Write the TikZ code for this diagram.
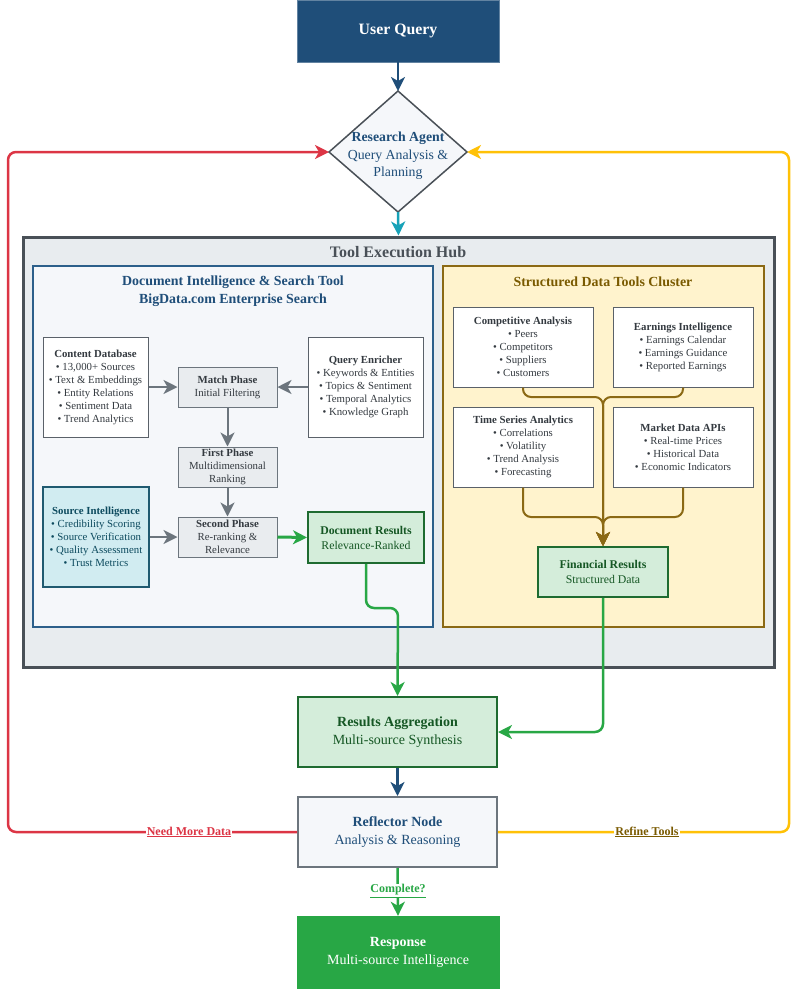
\documentclass[tikz,border=0pt]{standalone}
\usepackage{fontspec}
\setmainfont{Liberation Serif}
\usetikzlibrary{arrows.meta}
\definecolor{navy}{HTML}{1F4E79}
\definecolor{lightbg}{HTML}{F5F7FA}
\definecolor{hubbg}{HTML}{E8ECEF}
\definecolor{hubline}{HTML}{495057}
\definecolor{docline}{HTML}{2C5F8A}
\definecolor{boxline}{HTML}{5A6169}
\definecolor{txt}{HTML}{343A40}
\definecolor{phasebg}{HTML}{E9ECEF}
\definecolor{phaseline}{HTML}{6C757D}
\definecolor{srcbg}{HTML}{D1ECF1}
\definecolor{srcline}{HTML}{1F5A70}
\definecolor{srctxt}{HTML}{0C4A5E}
\definecolor{gbg}{HTML}{D4EDDA}
\definecolor{gline}{HTML}{1E6B30}
\definecolor{gtxt}{HTML}{155724}
\definecolor{ybg}{HTML}{FFF3CD}
\definecolor{yline}{HTML}{8B6914}
\definecolor{ytxt}{HTML}{7A5A00}
\definecolor{cred}{HTML}{DC3545}
\definecolor{cyel}{HTML}{FFC107}
\definecolor{cgreen}{HTML}{28A745}
\definecolor{cteal}{HTML}{17A2B8}
\tikzset{
  box/.style={draw, rectangle, align=center, inner sep=0pt},
  small/.style={font=\fontsize{10.8}{13}\selectfont},
  whitebox/.style={box, fill=white, draw=boxline, line width=1pt, text=txt, small},
  phasebox/.style={box, fill=phasebg, draw=phaseline, line width=1pt, text=txt, small},
  greenbox/.style={box, fill=gbg, draw=gline, line width=2pt, text=gtxt},
  arr/.style={-{Stealth[length=14pt,width=14pt,inset=4pt]}},
  grayarr/.style={arr, draw=phaseline, line width=2pt},
  brownline/.style={draw=yline, line width=2pt, rounded corners=8pt},
  lbl/.style={fill=white, inner sep=1pt, font=\fontsize{12}{13}\selectfont\bfseries}
}
\begin{document}
\begin{tikzpicture}[x=1pt,y=-1pt]
\useasboundingbox (0,0) rectangle (799,989);

% hub
\node[box, fill=hubbg, draw=hubline, line width=3pt, minimum width=751, minimum height=430] (hub) at (398.5,452) {};
\node[text=hubline, font=\fontsize{16}{18}\selectfont\bfseries] (hubt) at (398,252) {Tool Execution Hub};

% document cluster
\node[box, fill=lightbg, draw=docline, line width=2pt, minimum width=400, minimum height=361] (doc) at (233,446.5) {};
\node[text=navy, align=center, font=\fontsize{13.9}{18}\selectfont\bfseries] (doct) at (233,291) {Document Intelligence \& Search Tool\\BigData.com Enterprise Search};

% structured cluster
\node[box, fill=ybg, draw=yline, line width=2pt, minimum width=321, minimum height=361] (str) at (603.5,446.5) {};
\node[text=ytxt, font=\fontsize{13.9}{16}\selectfont\bfseries] (strt) at (603,282) {Structured Data Tools Cluster};

% top
\node[box, fill=navy, draw=navy!70!white, text=white, minimum width=202, minimum height=62, font=\fontsize{15.8}{18}\selectfont\bfseries] (uq) at (398,31) {User Query};
\coordinate (dt) at (398,91);
\coordinate (db) at (398,212);
\coordinate (dl) at (329,152);
\coordinate (dr) at (467,152);
\draw[fill=lightbg, draw=hubline, line width=1.5pt, line join=miter] (dt) -- (dr) -- (db) -- (dl) -- cycle;
\node[text=navy, align=center, font=\fontsize{13.8}{17.5}\selectfont] (ra) at (398,156) {\textbf{Research Agent}\\Query Analysis \&\\Planning};
\draw[arr, draw=navy, line width=2.5pt] (uq.south) -- (dt);
\draw[arr, draw=cteal, line width=2.5pt] (db) -- (hub.north);

% document internals
\node[whitebox, minimum width=105, minimum height=100] (cdb) at (95.5,387) {\textbf{Content Database}\\• 13,000+ Sources\\• Text \& Embeddings\\• Entity Relations\\• Sentiment Data\\• Trend Analytics};
\node[whitebox, minimum width=115, minimum height=100] (qe) at (365.5,387) {\textbf{Query Enricher}\\• Keywords \& Entities\\• Topics \& Sentiment\\• Temporal Analytics\\• Knowledge Graph};
\node[phasebox, minimum width=99, minimum height=40] (mp) at (227.5,387) {\textbf{Match Phase}\\Initial Filtering};
\node[phasebox, minimum width=99, minimum height=40] (fp) at (227.5,467) {\textbf{First Phase}\\Multidimensional\\Ranking};
\node[phasebox, minimum width=99, minimum height=40] (sp) at (227.5,537) {\textbf{Second Phase}\\Re-ranking \&\\Relevance};
\node[box, fill=srcbg, draw=srcline, line width=2pt, text=srctxt, small, minimum width=106, minimum height=100] (si) at (96,537) {\textbf{Source Intelligence}\\• Credibility Scoring\\• Source Verification\\• Quality Assessment\\• Trust Metrics};
\node[greenbox, minimum width=116, minimum height=51, font=\fontsize{11.8}{15}\selectfont] (dr2) at (366,537.5) {\textbf{Document Results}\\Relevance-Ranked};

\draw[grayarr] (cdb.east |- mp.west) -- (mp.west);
\draw[grayarr] (qe.west |- mp.east) -- (mp.east);
\draw[grayarr] (mp.south) -- (fp.north);
\draw[grayarr] (fp.south) -- (sp.north);
\draw[grayarr] (si.east |- sp.west) -- (sp.west);
\draw[arr, draw=cgreen, line width=3pt] (sp.east) -- (dr2.west);

% structured internals
\node[whitebox, minimum width=140, minimum height=80] (ca) at (523,347) {\textbf{Competitive Analysis}\\• Peers\\• Competitors\\• Suppliers\\• Customers};
\node[whitebox, minimum width=140, minimum height=80] (ei) at (683,347) {\textbf{Earnings Intelligence}\\• Earnings Calendar\\• Earnings Guidance\\• Reported Earnings};
\node[whitebox, minimum width=140, minimum height=80] (ts) at (523,447) {\textbf{Time Series Analytics}\\• Correlations\\• Volatility\\• Trend Analysis\\• Forecasting};
\node[whitebox, minimum width=140, minimum height=80] (md) at (683,447) {\textbf{Market Data APIs}\\• Real-time Prices\\• Historical Data\\• Economic Indicators};
\node[greenbox, minimum width=130, minimum height=50, font=\fontsize{11.8}{15}\selectfont] (fr) at (603,572) {\textbf{Financial Results}\\Structured Data};

\draw[brownline, arr] (ca.south) -- (523,397) -- (603,397) -- (fr.north);
\draw[brownline, arr] (ei.south) -- (683,397) -- (603,397) -- (fr.north);
\draw[brownline, arr] (ts.south) -- (523,517) -- (603,517) -- (fr.north);
\draw[brownline, arr] (md.south) -- (683,517) -- (603,517) -- (fr.north);

% bottom
\node[greenbox, minimum width=199, minimum height=70, font=\fontsize{14}{18}\selectfont] (agg) at (397.5,732) {\textbf{Results Aggregation}\\Multi-source Synthesis};
\node[box, fill=lightbg, draw=phaseline, line width=2pt, text=navy, minimum width=199, minimum height=70, font=\fontsize{14}{18}\selectfont] (ref) at (397.5,832) {\textbf{Reflector Node}\\Analysis \& Reasoning};
\node[box, fill=cgreen, draw=cgreen, text=white, minimum width=202, minimum height=73, font=\fontsize{14}{18}\selectfont] (resp) at (398,952.5) {\textbf{Response}\\Multi-source Intelligence};

\draw[arr, draw=cgreen, line width=2.5pt, rounded corners=8pt] (dr2.south) -- (366,608) -- (398,608) -- (agg.north);
\draw[arr, draw=cgreen, line width=2.5pt, rounded corners=8pt] (fr.south) -- (603,732) -- (agg.east);
\draw[arr, draw=navy, line width=2.5pt] (agg.south) -- (ref.north);
\draw[arr, draw=cgreen, line width=2.5pt] (ref.south) -- (resp.north);
\draw[arr, draw=cred, line width=2.5pt, rounded corners=8pt] (ref.west) -- (8,832) -- (8,152) -- (dl);
\draw[arr, draw=cyel, line width=2.5pt, rounded corners=8pt] (ref.east) -- (789,832) -- (789,152) -- (dr);

\node[lbl, text=cred] (l1) at (189,832) {\underline{Need More Data}};
\node[lbl, text=ytxt] (l2) at (647,832) {\underline{Refine Tools}};
\node[lbl, text=cgreen] (l3) at (398,891) {\underline{Complete?}};
\end{tikzpicture}
\end{document}
